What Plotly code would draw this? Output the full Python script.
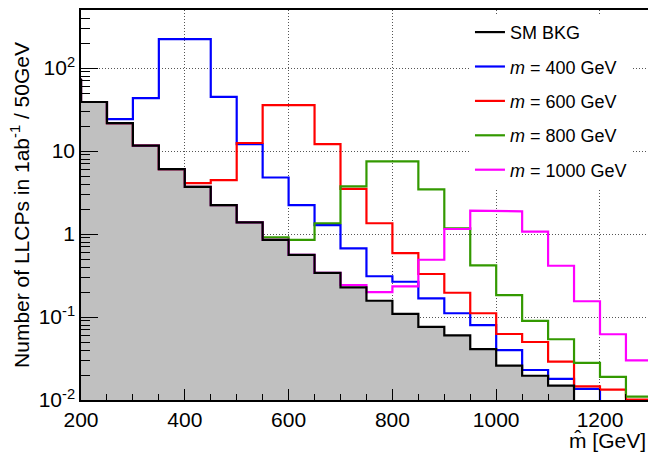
import numpy as np
import plotly.graph_objects as go

# bin low edges (GeV), 50 GeV bins
bin_low = [150, 200, 250, 300, 350, 400, 450, 500, 550, 600, 650, 700, 750,
           800, 850, 900, 950, 1000, 1050, 1100, 1150, 1200, 1250]
bin_width = 50

sm_bkg = [72, 39, 21.7, 11.6, 6.07, 3.7, 2.23, 1.38, 0.85, 0.56, 0.34, 0.228, 0.157,
          0.109, 0.076, 0.060, 0.041, 0.026, 0.0196, 0.0149, 0, 0, 0]
m400 = [72, 39, 24.3, 43.5, 223, 223, 45, 12.1, 4.8, 2.23, 1.28, 0.67, 0.31,
        0.266, 0.168, 0.111, 0.080, 0.040, 0.023, 0.018, 0.0136, 0, 0]
m600 = [72, 39, 21.7, 11.6, 6.07, 4.1, 4.47, 12.5, 35.8, 35.8, 12.1, 3.5, 1.35,
        0.59, 0.33, 0.196, 0.111, 0.0624, 0.050, 0.029, 0.0146, 0.0133, 0.0101]
m800 = [72, 39, 21.7, 11.6, 6.07, 3.7, 2.23, 1.38, 0.91, 0.85, 1.35, 3.76, 7.5,
        7.5, 3.45, 1.17, 0.42, 0.184, 0.090, 0.054, 0.028, 0.019, 0.011]
m1000 = [72, 39, 21.7, 11.6, 6.07, 3.7, 2.23, 1.38, 0.85, 0.56, 0.34, 0.243, 0.20,
         0.234, 0.49, 1.15, 1.91, 1.88, 1.07, 0.415, 0.155, 0.062, 0.030]

series = [
    ("<i>m</i> = 400 GeV", m400, "#0000ff"),
    ("<i>m</i> = 600 GeV", m600, "#ff0000"),
    ("<i>m</i> = 800 GeV", m800, "#339900"),
    ("<i>m</i> = 1000 GeV", m1000, "#ff00ff"),
]

FLOOR = 1e-6
edges = np.array(bin_low + [bin_low[-1] + bin_width], dtype=float)


def step(vals):
    v = np.where(np.array(vals, dtype=float) > 0, vals, FLOOR)
    xs = np.repeat(edges, 2)[1:-1]
    ys = np.repeat(v, 2)
    return xs, ys


fig = go.Figure()

# background filled area
bx, by = step(sm_bkg)
fig.add_trace(go.Scatter(
    x=np.concatenate([[edges[0]], bx, [edges[-1]]]),
    y=np.concatenate([[FLOOR], by, [FLOOR]]),
    mode="lines", fill="toself", fillcolor="#c0c0c0",
    line=dict(width=0, color="#c0c0c0"), showlegend=False, hoverinfo="skip"))

# legend entry for SM BKG first (its line is drawn on top later)
fig.add_trace(go.Scatter(x=[None], y=[None], mode="lines", name="SM BKG",
                         line=dict(color="black", width=2.2), legendgroup="bkg"))

for name, vals, col in series:
    sx, sy = step(vals)
    fig.add_trace(go.Scatter(x=sx, y=sy, mode="lines", name=name,
                             line=dict(color=col, width=2.2), legendgroup=name))

fig.add_trace(go.Scatter(x=bx, y=by, mode="lines", name="SM BKG",
                         line=dict(color="black", width=2.2), showlegend=False))

FONT = "Liberation Sans, Arial, Helvetica, sans-serif"

minor_y = [m * 10.0 ** d for d in range(-2, 3) for m in range(2, 10)]

fig.update_layout(
    width=648, height=452,
    margin=dict(l=81, r=0, t=10, b=52, autoexpand=False),
    paper_bgcolor="white", plot_bgcolor="white",
    font=dict(family=FONT, size=21, color="black"),
    showlegend=True,
    legend=dict(x=0.686, y=0.99, xanchor="left", yanchor="top",
                bgcolor="white", borderwidth=0, font=dict(size=18),
                tracegroupgap=8, itemwidth=30),
    xaxis=dict(range=[200, 1292.5], showline=True, linecolor="black", linewidth=1.5,
               mirror=True, ticks="inside", ticklen=11, tickcolor="black",
               tick0=200, dtick=200, showgrid=True, gridcolor="#555",
               griddash="1px,2px", gridwidth=1, zeroline=False, automargin=False,
               tickfont=dict(size=21),
               minor=dict(ticks="inside", ticklen=6, dtick=50, tick0=200,
                          tickcolor="black", showgrid=False)),
    yaxis=dict(type="log", range=[-2, 2.70], showline=True, linecolor="black",
               linewidth=1.5, mirror=False, ticks="inside", ticklen=17,
               tickcolor="black", tickmode="array", automargin=False,
               tickvals=[0.01, 0.1, 1, 10, 100],
               ticktext=["10<sup>-2</sup>", "10<sup>-1</sup>", "1", "10", "10<sup>2</sup>"],
               showgrid=True, gridcolor="#555", griddash="1px,2px", gridwidth=1,
               zeroline=False, tickfont=dict(size=21),
               title=dict(text="Number of LLCPs in 1ab<sup>-1</sup> / 50GeV",
                          font=dict(size=21), standoff=3),
               minor=dict(ticks="inside", ticklen=9, tickmode="array",
                          tickvals=minor_y, tickcolor="black", showgrid=False)),
)

fig.add_annotation(text="m\u0302 [GeV]", xref="paper", yref="paper",
                   x=1.0, y=-0.105, xanchor="right", yanchor="middle",
                   showarrow=False, font=dict(size=21, family=FONT))

fig.write_html("out.html", post_script="document.body.style.margin='0px';",
               config={"displayModeBar": False})
